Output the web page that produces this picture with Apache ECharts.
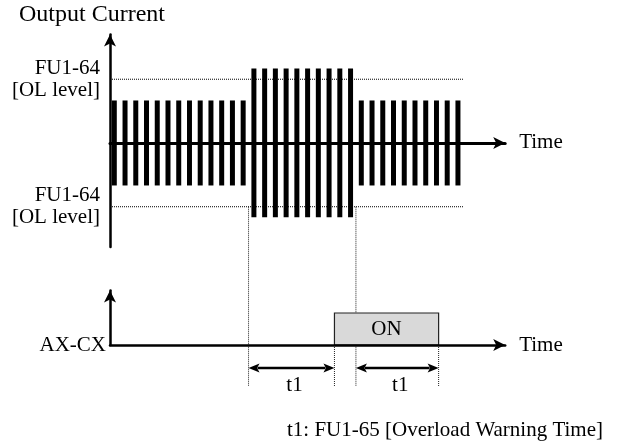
<!DOCTYPE html>
<html><head><meta charset="utf-8">
<script src="https://cdn.jsdelivr.net/npm/echarts@6/dist/echarts.min.js"></script>
<style>html,body{margin:0;padding:0;background:#fff}#c{width:622px;height:445px}</style>
</head><body><div id="c"></div>
<script>
// ---------------- data ----------------
const barIndex = [0,1,2,3,4,5,6,7,8,9,10,11,12,13,14,15,16,17,18,19,20,21,22,23,24,25,26,27,28,29,30,31,32];
const barAmplitude = [1,1,1,1,1,1,1,1,1,1,1,1,1,
                      1.75,1.75,1.75,1.75,1.75,1.75,1.75,1.75,1.75,1.75,
                      1,1,1,1,1,1,1,1,1,1];
const olLevel = 1.5;
const olLineRange = [-0.4, 32.5];
const onInterval = [20.5, 30.2];
const t1Intervals = [[12.5, 20.5], [22.5, 30.2]];
const guideLinesFromOL = [12.5, 22.5];
const guideLinesFromAxis = [20.5, 30.2];
const guideBottom = -1.3;
const t1ArrowLevel = -0.72;
const onLevel = 1;
const olLabel = 'FU1-64\n[OL level]';
const yTitle = 'Output Current';
const xName = 'Time';
const signalName = 'AX-CX';
const onText = 'ON';
const t1Text = 't1';
const footnote = 't1: FU1-65 [Overload Warning Time]';

// ---------------- chart ----------------
const FONT = "'Liberation Serif', 'Times New Roman', serif";
const chart = echarts.init(document.getElementById('c'), null, {renderer: 'canvas'});
let olPixelY = null;

const barData = barIndex.map((x, i) => [x, barAmplitude[i]]);
const guideData = guideLinesFromOL.map(x => [x, 1]).concat(guideLinesFromAxis.map(x => [x, 0]));

function axisCommon(extra) {
  return Object.assign({
    type: 'value',
    axisTick: {show: false},
    splitLine: {show: false},
    axisLabel: {show: false}
  }, extra);
}

const option = {
  animation: false,
  backgroundColor: '#fff',
  title: [
    {text: yTitle, left: 19, top: 3, padding: 0,
     textStyle: {fontFamily: FONT, fontSize: 24, fontWeight: 'normal', color: '#000', lineHeight: 24}},
    {text: footnote, right: 19, top: 420, padding: 0,
     textStyle: {fontFamily: FONT, fontSize: 21, fontWeight: 'normal', color: '#000', lineHeight: 21}}
  ],
  grid: [
    {left: 110, top: 34.6, width: 395.2, height: 212.5},
    {left: 110, top: 290.6, width: 395.2, height: 54.4}
  ],
  xAxis: [
    axisCommon({gridIndex: 0, min: -0.4, max: 36.4, z: 5,
      axisLine: {show: true, onZero: true, symbol: ['none', 'arrow'], symbolSize: [9, 12],
                 lineStyle: {color: '#000', width: 3}},
      name: xName, nameLocation: 'end', nameGap: 14,
      nameTextStyle: {fontFamily: FONT, fontSize: 21, color: '#000', padding: [3, 0, 0, 0]}}),
    axisCommon({gridIndex: 1, min: -0.4, max: 36.4, z: 5,
      axisLine: {show: true, onZero: true, symbol: ['none', 'arrow'], symbolSize: [9, 12],
                 lineStyle: {color: '#000', width: 2.5}},
      name: xName, nameLocation: 'end', nameGap: 14,
      nameTextStyle: {fontFamily: FONT, fontSize: 21, color: '#000'}})
  ],
  yAxis: [
    axisCommon({gridIndex: 0, min: -2.45, max: 2.55, z: 5,
      axisLine: {show: true, onZero: false, symbol: ['none', 'arrow'], symbolSize: [9, 12],
                 lineStyle: {color: '#000', width: 2.5}},
      axisLabel: {show: true, customValues: [-olLevel, olLevel], formatter: () => olLabel,
                  margin: 10, padding: [6, 0, 0, 0], fontFamily: FONT, fontSize: 21, lineHeight: 22, color: '#000'}}),
    axisCommon({gridIndex: 1, min: 0, max: 1.7, z: 5,
      axisLine: {show: true, onZero: false, symbol: ['none', 'arrow'], symbolSize: [9, 12],
                 lineStyle: {color: '#000', width: 2.5}},
      axisLabel: {show: true, customValues: [0], formatter: () => signalName,
                  margin: 4, padding: [0, 0, 13, 0], fontFamily: FONT, fontSize: 21, color: '#000'}})
  ],
  series: [
    {type: 'line', xAxisIndex: 0, yAxisIndex: 0, symbol: 'none', silent: true, z: 1,
     data: [[olLineRange[0], olLevel], [olLineRange[1], olLevel]],
     lineStyle: {color: '#000', width: 1, type: [1, 1]}},
    {type: 'line', xAxisIndex: 0, yAxisIndex: 0, symbol: 'none', silent: true, z: 1,
     data: [[olLineRange[0], -olLevel], [olLineRange[1], -olLevel]],
     lineStyle: {color: '#000', width: 1, type: [1, 1]}},
    {type: 'custom', xAxisIndex: 0, yAxisIndex: 0, silent: true, z: 2,
     data: barData,
     renderItem(params, api) {
       const x = api.value(0), a = api.value(1);
       const p1 = api.coord([x, a]), p2 = api.coord([x, -a]);
       return {type: 'rect', shape: {x: p1[0] - 2.5, y: p1[1], width: 5, height: p2[1] - p1[1]},
               style: {fill: '#000'}};
     }},
    {id: 'guides', type: 'custom', xAxisIndex: 1, yAxisIndex: 1, silent: true, z: 1, clip: false,
     data: guideData,
     renderItem(params, api) {
       const x = api.value(0), fromOL = api.value(1);
       const b = api.coord([x, guideBottom]);
       let topY;
       if (fromOL) { if (olPixelY == null) return; topY = olPixelY; }
       else topY = api.coord([x, 0])[1];
       return {type: 'line', shape: {x1: b[0], y1: topY, x2: b[0], y2: b[1]},
               style: {stroke: '#222', lineWidth: 1, lineDash: [1, 1]}};
     }},
    {type: 'custom', xAxisIndex: 1, yAxisIndex: 1, silent: true, z: 3, clip: false,
     data: [[onInterval[0], onInterval[1], onLevel]],
     renderItem(params, api) {
       const p0 = api.coord([api.value(0), api.value(2)]);
       const p1 = api.coord([api.value(1), 0]);
       return {type: 'group', children: [
         {type: 'rect', shape: {x: p0[0], y: p0[1], width: p1[0] - p0[0], height: p1[1] - p0[1]},
          style: {fill: '#d9d9d9', stroke: '#222', lineWidth: 1.2}},
         {type: 'text', style: {text: onText, x: (p0[0] + p1[0]) / 2, y: (p0[1] + p1[1]) / 2,
          align: 'center', verticalAlign: 'middle', fontFamily: FONT, fontSize: 21, fill: '#000'}}
       ]};
     }},
    {type: 'custom', xAxisIndex: 1, yAxisIndex: 1, silent: true, z: 3, clip: false,
     data: t1Intervals,
     renderItem(params, api) {
       const s = api.coord([api.value(0), t1ArrowLevel]);
       const e = api.coord([api.value(1), t1ArrowLevel]);
       const y = s[1], L = 11, H = 4.5;
       return {type: 'group', children: [
         {type: 'line', shape: {x1: s[0] + L - 2, y1: y, x2: e[0] - L + 2, y2: y},
          style: {stroke: '#000', lineWidth: 2.5}},
         {type: 'polygon', shape: {points: [[s[0], y], [s[0] + L, y - H], [s[0] + L - 2.5, y], [s[0] + L, y + H]]},
          style: {fill: '#000'}},
         {type: 'polygon', shape: {points: [[e[0], y], [e[0] - L, y - H], [e[0] - L + 2.5, y], [e[0] - L, y + H]]},
          style: {fill: '#000'}},
         {type: 'text', style: {text: t1Text, x: (s[0] + e[0]) / 2 + 3, y: y + 17,
          align: 'center', verticalAlign: 'middle', fontFamily: FONT, fontSize: 21, fill: '#000'}}
       ]};
     }}
  ]
};
chart.setOption(option);
olPixelY = chart.convertToPixel({xAxisIndex: 0, yAxisIndex: 0}, [0, -olLevel])[1];
chart.setOption({series: [{id: 'guides', data: guideData}]});
</script>
</body></html>
